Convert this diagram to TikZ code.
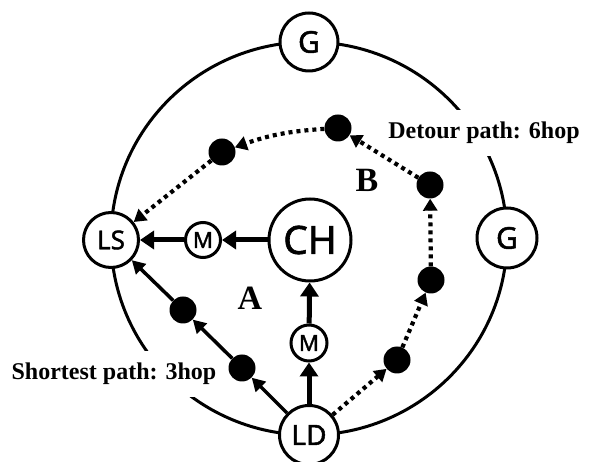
\documentclass[tikz,border=0pt]{standalone}
\usepackage{fontspec}
\setmainfont{Liberation Serif}
\newfontfamily\nodefont[FakeBold=1.6]{Noto Sans}
\usetikzlibrary{arrows.meta}
\begin{document}
\begin{tikzpicture}[x=1pt,y=-1pt,
  nd/.style={circle,draw,line width=3pt,fill=white,inner sep=0pt,minimum size=#1},
  blob/.style={circle,fill=black,inner sep=0pt,minimum size=27pt},
  fatarrow/.style={line width=5pt,-{Triangle[length=14pt,width=18pt]}},
  pathsolid/.style={line width=3.5pt,-{Triangle[length=13pt,width=14pt]}},
  pathdot/.style={line width=4.2pt,dash pattern=on 4pt off 4pt,-{Triangle[length=12pt,width=14pt]}},
  lbl/.style={font=\fontsize{24}{24}\selectfont\bfseries,fill=white,inner xsep=1pt,inner ysep=12pt,text height=17pt,text depth=5pt},
  big/.style={font=\fontsize{34}{34}\selectfont\bfseries},
  nf/.style={font=\nodefont\fontsize{#1}{#1}\selectfont}
]
\useasboundingbox (0,0) rectangle (590,462);
\fill[white] (0,0) rectangle (590,462);
% outer ring
\draw[line width=3pt] (309,238.5) ellipse [x radius=198pt, y radius=196.5pt];
% texts crossing the ring
\node[lbl] (tdet) at (484,133) {Detour path: 6hop};
\node[lbl] (tsho) at (114,374) {Shortest path: 3hop};
\node[big] (tA) at (250,298) {A};
\node[big] (tB) at (367,180) {B};
% nodes
\node[nd=58pt,nf=30] (gtop) at (309,42) {G};
\node[nd=60pt,nf=30] (gright) at (507,238) {G};
\node[nd=55pt,nf=26] (ls) at (111,240) {LS};
\node[nd=59pt,nf=28] (ld) at (309,435) {LD};
\node[nd=82pt,nf=39] (ch) at (310,240) {CH};
\node[nd=35pt,nf=22] (m1) at (203,240) {M};
\node[nd=36pt,nf=22] (m2) at (309,343) {M};
% dots
\node[blob] (s1) at (242,368) {};
\node[blob] (s2) at (183,310) {};
\node[blob] (d1) at (397,360) {};
\node[blob] (d2) at (431,280) {};
\node[blob] (d3) at (430,185) {};
\node[blob] (d4) at (338,128) {};
\node[blob] (d5) at (222,152) {};
% path A (via M)
\draw[fatarrow] (ch) -- (m1);
\draw[fatarrow] (m1) -- (ls);
\draw[fatarrow] (ld) -- (m2);
\draw[fatarrow] (m2) -- (ch);
% shortest path
\draw[pathsolid] (ld) -- (s1);
\draw[pathsolid] (s1) -- (s2);
\draw[pathsolid] (s2) -- (ls);
% detour path
\draw[pathdot] (ld) -- (d1);
\draw[pathdot] (d1) -- (d2);
\draw[pathdot] (d2) -- (d3);
\draw[pathdot] (d3) -- (d4);
\draw[pathdot] (d4) to[bend right=8] (d5);
\draw[pathdot] (d5) -- (ls);
\end{tikzpicture}
\end{document}
